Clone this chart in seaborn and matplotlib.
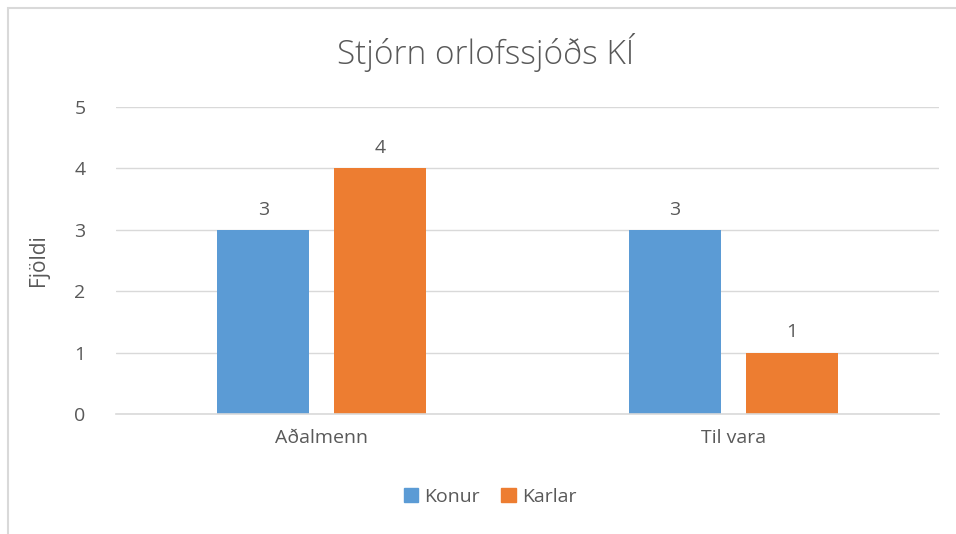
import matplotlib
matplotlib.use("Agg")
import matplotlib.pyplot as plt
import matplotlib.patches as mpatches
import seaborn as sns
import pandas as pd

# data
categories = ["Aðalmenn", "Til vara"]
konur = [3, 3]
karlar = [4, 1]
series = ["Konur", "Karlar"]
colors = ["#5B9BD5", "#ED7D31"]

df = pd.DataFrame({
    "Flokkur": categories * 2,
    "Kyn": ["Konur"] * len(konur) + ["Karlar"] * len(karlar),
    "Fjöldi": konur + karlar,
})

sns.set_theme(style="white")
plt.rcParams["font.family"] = ["Open Sans", "DejaVu Sans"]
text_color = "#595959"

fig = plt.figure(figsize=(9.56, 5.34), dpi=100)
ax = fig.add_axes([116 / 956, 1 - 414 / 534, (939 - 116) / 956, (414 - 107) / 534])

sns.barplot(data=df, x="Flokkur", y="Fjöldi", hue="Kyn", hue_order=series,
            palette=colors, width=0.569, gap=0.214, saturation=1,
            linewidth=0, ax=ax, legend=False)

# value labels above the bars
for container in ax.containers:
    ax.bar_label(container, padding=8, fontsize=14, color=text_color)

ax.set_xlim(-0.5, 1.5)
ax.set_ylim(0, 5)
ax.set_yticks(range(0, 6))
ax.yaxis.grid(True, color="#d9d9d9", linewidth=1)
ax.set_axisbelow(True)
for side in ["top", "right", "left"]:
    ax.spines[side].set_visible(False)
ax.spines["bottom"].set_color("#d9d9d9")
ax.spines["bottom"].set_linewidth(1.2)
ax.tick_params(axis="both", length=0, labelsize=14, labelcolor=text_color)
ax.tick_params(axis="y", pad=22)
ax.tick_params(axis="x", pad=11)
ax.set_xlabel("")
ax.set_ylabel("Fjöldi", fontsize=15, color=text_color, labelpad=18)

fig.suptitle("Stjórn orlofssjóðs KÍ", x=486 / 956, y=1 - 53 / 534, va="center",
             fontsize=24, fontweight="light", color=text_color)

handles = [mpatches.Patch(color=c, label=s) for s, c in zip(series, colors)]
fig.legend(handles=handles, loc="center", bbox_to_anchor=(490 / 956, 1 - 497 / 534),
           ncol=2, frameon=False, fontsize=14, labelcolor=text_color,
           handlelength=0.75, handleheight=0.75, handletextpad=0.3, columnspacing=1.1)

# chart border (only top and left edges visible in the crop)
fig.add_artist(mpatches.Rectangle((7.5 / 956, -0.1), 1.2, 1.1 - 8.5 / 534,
                                  transform=fig.transFigure, fill=False,
                                  edgecolor="#d9d9d9", linewidth=1.5))

fig.savefig("out.png", dpi=100, facecolor="white")
